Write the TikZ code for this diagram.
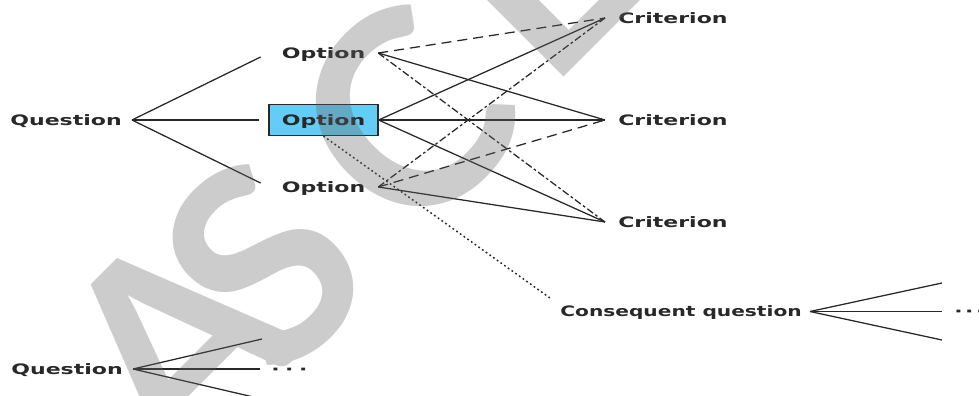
\documentclass[tikz,border=0pt]{standalone}
\usepackage{fontspec}
\newfontfamily\labfont{DejaVu Sans}[FakeStretch=1.53]
\newfontfamily\cqfont{DejaVu Sans}[FakeStretch=1.40]
\newfontfamily\wmfont{Lato}
\definecolor{optfill}{RGB}{100,205,245}
\definecolor{ink}{RGB}{40,40,40}
\begin{document}
\begin{tikzpicture}[x=0.75pt,y=-0.75pt,
  lab/.style={font=\labfont\bfseries\fontsize{10.8}{12}\selectfont, text=ink,
    inner sep=0pt, text height=7.9pt, text depth=0pt},
  cqlab/.style={lab, font=\cqfont\bfseries\fontsize{10.8}{12}\selectfont},
  optnode/.style={lab, minimum width=81.75pt, minimum height=23.25pt},
  optbox/.style={optnode, draw=ink, fill=optfill, line width=0.9pt},
  conn/.style={draw=ink, line width=0.95pt},
  longdash/.style={conn, dash pattern=on 7.5pt off 4.5pt},
  dashdot/.style={conn, dash pattern=on 5.5pt off 2pt on 2pt off 2pt},
  dotline/.style={conn, line width=1.1pt, dash pattern=on 1.3pt off 2.1pt},
  toopt/.style={conn, shorten >=6.75pt},
  wmletter/.style={font=\wmfont\bfseries\fontsize{204}{204}\selectfont,
    text=black!61, rotate=45, inner sep=0pt,
    text height=146pt, text depth=0pt}]
\useasboundingbox (0,0) rectangle (979,396);

% first question and its options
\node[lab, anchor=east, inner xsep=7.5pt] (q1) at (132,120) {Question};
\node[optnode] (oT) at (323.5,53) {Option};
\node[optbox]  (oM) at (323.5,120) {Option};
\node[optnode] (oB) at (323.5,187) {Option};

% criteria
\node[lab, anchor=west, inner xsep=9.75pt] (c1) at (605,18) {Criterion};
\node[lab, anchor=west, inner xsep=9.75pt] (c2) at (605,120) {Criterion};
\node[lab, anchor=west, inner xsep=9.75pt] (c3) at (605,222) {Criterion};

% consequent question
\node[cqlab, anchor=east, inner xsep=6pt] (cq) at (810,311.5) {Consequent question};
\coordinate (cqin) at (550,298);
\coordinate (cqa) at (942,283);
\coordinate (cqb) at (942,311.5);
\coordinate (cqc) at (942,340);
\node[lab, anchor=west] (cqdots) at (954,311.5) {·\hspace{1.95pt}·\hspace{1.95pt}·};

% second question
\node[lab, anchor=east, inner xsep=7.5pt] (q2) at (133,369) {Question};
\coordinate (q2a) at (262,339);
\coordinate (q2b) at (260,369);
\coordinate (q2c) at (262,399);
\node[lab, anchor=west] (q2dots) at (271,369) {·\hspace{4.2pt}·\hspace{4.2pt}·};

% question to options
\draw[toopt] (q1.east) -- (oT.west);
\draw[toopt] (q1.east) -- (oM.west);
\draw[toopt] (q1.east) -- (oB.west);

% options to criteria
\draw[longdash] (oT.east) -- (c1.west);
\draw[conn]     (oT.east) -- (c2.west);
\draw[dashdot]  (oT.east) -- (c3.west);
\draw[conn] (oM.east) -- (c1.west);
\draw[conn] (oM.east) -- (c2.west);
\draw[conn] (oM.east) -- (c3.west);
\draw[dashdot]  (oB.east) -- (c1.west);
\draw[longdash] (oB.east) -- (c2.west);
\draw[conn]     (oB.east) -- (c3.west);

% chosen option leads to a consequent question
\draw[dotline] (oM.south) -- (cqin);
\draw[conn] (cq.east) -- (cqa);
\draw[conn] (cq.east) -- (cqb);
\draw[conn] (cq.east) -- (cqc);

% branches of the second question
\draw[conn] (q2.east) -- (q2a);
\draw[conn] (q2.east) -- (q2b);
\draw[conn] (q2.east) -- (q2c);

% watermark letters, blended as one translucent layer
\begin{scope}[transparency group, opacity=0.33]
\node[wmletter] (wmA) at (174,342) {A};
\node[wmletter] (wmS) at (263,265) {S};
\node[wmletter] (wmC) at (405,118) {C};
\node[wmletter] (wmE) at (535,-32) {E};
\end{scope}
\end{tikzpicture}
\end{document}
